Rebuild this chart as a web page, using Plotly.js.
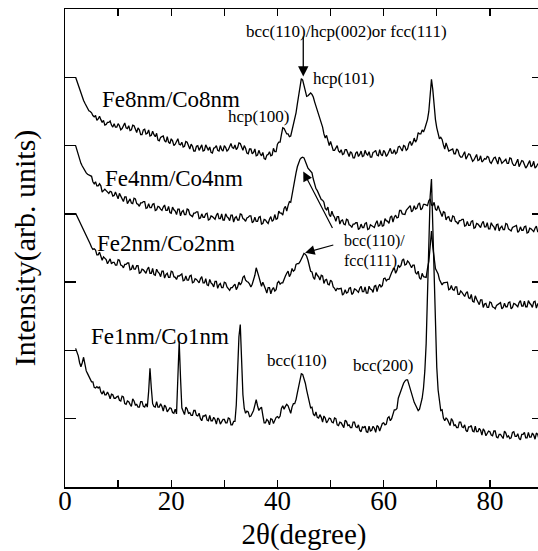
<!DOCTYPE html>
<html>
<head>
<meta charset="utf-8">
<script src="https://cdn.plot.ly/plotly-3.0.1.min.js"></script>
<style>
html,body{margin:0;padding:0;overflow:hidden;background:#fff;}
#chart{width:545px;height:551px;}
</style>
</head>
<body>
<div id="chart"></div>
<script>
// 2-theta sampling: first angle and step (degrees) of the merged series
const twoThetaStart = 2;
const twoThetaStep = 0.25;

// Intensities (arb. units, stacked offsets).
// "...Half" arrays: values at 2.0, 2.5, 3.0 ... 90.0 deg
// "...Quarter" arrays: values at 2.25, 2.75 ... 89.75 deg
const fe8nmHalf = [
6.00,5.88,5.76,5.66,5.58,5.51,5.48,5.42,5.37,5.43,
5.34,5.30,5.34,5.36,5.27,5.27,5.32,5.23,5.29,5.26,
5.29,5.23,5.29,5.19,5.23,5.16,5.24,5.18,5.14,5.21,
5.13,5.08,5.12,5.14,5.05,5.05,5.10,5.00,5.06,5.02,
5.05,4.99,5.05,4.95,4.99,4.92,5.00,4.96,4.92,5.01,
4.93,4.90,4.96,5.00,4.92,4.94,5.00,4.92,4.99,4.97,
5.01,4.97,5.03,4.93,4.96,4.88,4.95,4.90,4.85,4.93,
4.85,4.81,4.86,4.91,4.86,4.91,5.02,5.05,5.26,5.21,
5.17,5.14,5.32,5.48,5.74,5.98,5.88,5.72,5.76,5.75,
5.64,5.52,5.37,5.27,5.11,5.05,5.06,4.93,4.97,4.92,
4.94,4.88,4.94,4.84,4.89,4.82,4.91,4.87,4.84,4.93,
4.86,4.83,4.90,4.93,4.85,4.87,4.93,4.84,4.92,4.89,
4.94,4.90,4.99,4.92,4.99,4.95,5.06,5.04,5.05,5.19,
5.17,5.20,5.31,5.50,5.97,5.55,5.26,5.10,5.09,4.95,
4.99,4.93,4.95,4.88,4.93,4.83,4.87,4.80,4.88,4.83,
4.79,4.87,4.79,4.76,4.81,4.84,4.76,4.77,4.83,4.73,
4.80,4.76,4.80,4.74,4.81,4.71,4.76,4.69,4.78,4.73,
4.70,4.78,4.71,4.67,4.73,4.75,4.67];
const fe8nmQuarter = [
5.94,5.82,5.71,5.62,5.54,5.50,5.44,5.44,5.39,5.38,
5.37,5.31,5.34,5.30,5.32,5.27,5.29,5.25,5.33,5.25,
5.22,5.30,5.23,5.26,5.16,5.23,5.17,5.23,5.15,5.16,
5.18,5.07,5.13,5.07,5.13,5.03,5.07,5.02,5.10,5.01,
4.98,5.06,4.99,5.02,4.92,4.99,4.93,5.01,4.93,4.96,
4.98,4.89,4.97,4.93,5.00,4.92,4.97,4.94,5.03,4.96,
4.94,5.04,4.97,5.00,4.89,4.95,4.88,4.95,4.86,4.88,
4.90,4.80,4.87,4.85,4.96,4.91,5.05,5.16,5.25,5.17,
5.13,5.22,5.40,5.61,5.88,5.96,5.79,5.73,5.77,5.71,
5.58,5.44,5.32,5.17,5.15,5.00,5.01,4.93,5.00,4.90,
4.87,4.94,4.87,4.91,4.82,4.89,4.84,4.92,4.85,4.88,
4.91,4.83,4.91,4.86,4.94,4.85,4.90,4.87,4.96,4.89,
4.88,4.98,4.94,5.00,4.93,5.03,5.00,5.11,5.09,5.17,
5.23,5.25,5.38,5.75,5.82,5.38,5.17,5.12,5.01,5.04,
4.92,4.94,4.88,4.95,4.86,4.83,4.91,4.83,4.87,4.77,
4.84,4.78,4.85,4.78,4.80,4.83,4.74,4.82,4.77,4.83,
4.74,4.78,4.74,4.82,4.74,4.71,4.80,4.73,4.77,4.67,
4.75,4.69,4.77,4.69,4.72,4.74];

const fe4nmHalf = [
5.00,4.86,4.74,4.66,4.60,4.57,4.55,4.44,4.41,4.44,
4.32,4.36,4.31,4.33,4.26,4.32,4.22,4.25,4.18,4.25,
4.20,4.16,4.23,4.15,4.11,4.16,4.18,4.09,4.09,4.14,
4.05,4.11,4.07,4.10,4.05,4.11,4.01,4.06,3.99,4.07,
4.03,3.99,4.07,3.99,3.96,4.01,4.03,3.94,3.95,4.00,
3.91,3.97,3.94,3.98,3.93,4.00,3.91,3.96,3.90,3.98,
3.94,3.91,4.00,3.93,3.89,3.95,3.97,3.89,3.89,3.95,
3.85,3.92,3.88,3.92,3.89,3.99,3.93,4.01,3.98,4.11,
4.12,4.17,4.41,4.60,4.76,4.82,4.82,4.72,4.64,4.60,
4.42,4.34,4.25,4.20,4.08,4.10,3.96,3.98,3.89,3.96,
3.90,3.85,3.92,3.84,3.80,3.85,3.87,3.79,3.80,3.86,
3.77,3.84,3.81,3.86,3.82,3.90,3.83,3.90,3.86,3.97,
3.95,3.94,4.05,4.00,3.99,4.07,4.12,4.05,4.07,4.14,
4.06,4.14,4.13,4.19,4.13,4.17,4.05,4.06,3.96,4.02,
3.95,3.90,3.97,3.89,3.85,3.90,3.92,3.83,3.83,3.89,
3.79,3.86,3.82,3.86,3.81,3.87,3.78,3.83,3.76,3.85,
3.80,3.77,3.86,3.78,3.75,3.81,3.83,3.75,3.76,3.81,
3.72,3.79,3.76,3.79,3.74,3.81,3.72];
const fe4nmQuarter = [
4.93,4.80,4.70,4.63,4.58,4.56,4.47,4.47,4.41,4.41,
4.34,4.34,4.30,4.32,4.27,4.25,4.30,4.23,4.25,4.15,
4.22,4.15,4.22,4.14,4.16,4.18,4.08,4.15,4.09,4.15,
4.06,4.10,4.05,4.13,4.05,4.02,4.10,4.04,4.07,3.97,
4.05,3.99,4.06,3.98,4.01,4.03,3.93,4.00,3.95,4.01,
3.92,3.96,3.92,4.01,3.93,3.91,4.00,3.94,3.98,3.88,
3.96,3.91,3.99,3.92,3.94,3.97,3.87,3.95,3.89,3.96,
3.86,3.91,3.86,3.96,3.91,3.92,4.04,4.01,4.08,4.04,
4.18,4.29,4.50,4.69,4.80,4.83,4.78,4.67,4.62,4.51,
4.37,4.29,4.21,4.17,4.06,3.99,4.04,3.95,3.96,3.85,
3.91,3.84,3.91,3.83,3.85,3.87,3.77,3.85,3.80,3.87,
3.78,3.83,3.80,3.90,3.83,3.82,3.93,3.89,3.95,3.88,
3.98,3.95,4.05,4.00,4.05,4.10,4.03,4.12,4.08,4.16,
4.08,4.14,4.12,4.22,4.12,4.07,4.12,4.02,4.03,3.91,
3.96,3.89,3.96,3.88,3.90,3.92,3.82,3.89,3.83,3.90,
3.80,3.85,3.80,3.89,3.81,3.78,3.87,3.81,3.84,3.75,
3.82,3.77,3.85,3.77,3.80,3.83,3.73,3.81,3.76,3.82,
3.73,3.78,3.74,3.82,3.74,3.72];

const fe2nmHalf = [
4.01,3.92,3.84,3.76,3.69,3.62,3.51,3.49,3.40,3.44,
3.32,3.35,3.27,3.34,3.29,3.25,3.33,3.25,3.21,3.26,
3.28,3.19,3.19,3.24,3.13,3.19,3.15,3.19,3.13,3.20,
3.10,3.15,3.08,3.16,3.11,3.07,3.16,3.08,3.04,3.09,
3.12,3.03,3.03,3.09,2.99,3.05,3.01,3.05,2.99,3.05,
2.95,2.99,2.93,3.01,2.96,2.92,3.00,2.93,2.88,2.92,
2.97,2.93,2.96,3.07,3.03,3.00,2.93,3.02,3.21,3.08,
2.94,2.93,2.84,2.92,2.89,2.87,2.99,2.97,2.99,3.09,
3.16,3.12,3.16,3.26,3.27,3.34,3.42,3.38,3.24,3.15,
3.04,3.10,3.03,3.09,3.03,2.97,3.03,2.93,2.87,2.90,
2.91,2.83,2.84,2.91,2.82,2.90,2.87,2.91,2.86,2.93,
2.84,2.90,2.85,2.95,2.93,2.93,3.05,3.02,3.04,3.14,
3.21,3.17,3.22,3.32,3.25,3.31,3.25,3.25,3.14,3.16,
3.04,3.08,3.07,3.30,3.75,3.30,3.16,3.04,2.96,2.99,
3.00,2.90,2.89,2.93,2.82,2.87,2.82,2.84,2.77,2.82,
2.71,2.75,2.67,2.74,2.68,2.63,2.71,2.64,2.61,2.67,
2.70,2.63,2.64,2.70,2.61,2.69,2.66,2.70,2.65,2.72,
2.64,2.69,2.63,2.72,2.68,2.65,2.74];
const fe2nmQuarter = [
3.97,3.88,3.80,3.73,3.65,3.56,3.48,3.47,3.40,3.36,
3.37,3.33,3.32,3.27,3.29,3.25,3.32,3.24,3.26,3.28,
3.18,3.25,3.19,3.24,3.14,3.18,3.13,3.22,3.13,3.11,
3.19,3.13,3.16,3.06,3.13,3.07,3.15,3.07,3.09,3.11,
3.02,3.09,3.03,3.10,3.00,3.04,2.99,3.08,2.99,2.96,
3.04,2.97,3.01,2.91,2.98,2.92,2.99,2.91,2.92,2.95,
2.89,3.00,2.99,3.09,3.01,2.97,2.97,3.10,3.16,3.01,
3.00,2.90,2.92,2.83,2.92,2.89,3.01,2.99,3.06,3.13,
3.08,3.20,3.18,3.27,3.30,3.39,3.41,3.32,3.16,3.07,
3.14,3.08,3.10,2.98,3.04,2.96,3.01,2.91,2.91,2.91,
2.81,2.89,2.85,2.92,2.84,2.89,2.85,2.94,2.86,2.84,
2.94,2.89,2.94,2.86,2.97,2.95,3.06,3.04,3.11,3.18,
3.13,3.25,3.24,3.34,3.26,3.29,3.21,3.25,3.12,3.06,
3.13,3.08,3.20,3.52,3.52,3.20,3.12,3.00,2.99,3.00,
2.89,2.95,2.88,2.93,2.82,2.85,2.79,2.86,2.76,2.72,
2.80,2.72,2.74,2.63,2.69,2.63,2.70,2.63,2.66,2.69,
2.61,2.69,2.64,2.71,2.63,2.68,2.64,2.73,2.65,2.64,
2.73,2.67,2.71,2.62,2.70,2.65];

const fe1nmHalf = [
2.03,1.92,1.76,1.90,1.70,1.62,1.54,1.46,1.47,1.47,
1.36,1.35,1.39,1.29,1.35,1.30,1.33,1.26,1.32,1.21,
1.25,1.18,1.26,1.21,1.17,1.25,1.17,1.17,1.74,1.22,
1.17,1.17,1.22,1.11,1.17,1.13,1.15,1.08,1.07,2.13,
1.16,1.06,1.14,1.09,1.05,1.12,1.04,1.00,1.04,1.06,
0.97,0.97,1.02,0.92,0.99,0.95,0.99,0.94,1.00,0.91,
0.96,1.70,2.38,1.35,1.08,1.10,1.04,1.12,1.28,1.12,
1.17,0.94,0.99,0.91,0.99,0.97,1.03,1.04,1.19,1.18,
1.19,1.08,1.22,1.28,1.48,1.66,1.60,1.42,1.22,1.17,
1.04,1.02,1.06,0.95,1.01,0.97,1.00,0.94,1.00,0.90,
0.94,0.87,0.96,0.91,0.87,0.95,0.87,0.83,0.88,0.89,
0.80,0.82,0.89,0.80,0.88,0.87,0.94,0.92,1.03,1.00,
1.13,1.15,1.36,1.46,1.55,1.57,1.42,1.30,1.20,1.12,
1.22,1.45,2.10,3.70,4.51,3.10,1.75,1.22,1.13,0.97,
0.99,0.90,0.97,0.91,0.87,0.95,0.87,0.83,0.88,0.90,
0.81,0.81,0.86,0.76,0.82,0.78,0.81,0.75,0.82,0.72,
0.77,0.71,0.79,0.75,0.72,0.81,0.74,0.71,0.77,0.80,
0.72,0.73,0.79,0.70,0.77,0.74,0.79];
const fe1nmQuarter = [
1.98,1.82,1.82,1.80,1.66,1.58,1.54,1.45,1.45,1.39,
1.41,1.35,1.35,1.36,1.30,1.32,1.27,1.33,1.22,1.26,
1.21,1.29,1.20,1.17,1.25,1.18,1.22,1.40,1.45,1.18,
1.25,1.17,1.18,1.20,1.10,1.16,1.09,1.14,1.55,1.60,
1.11,1.17,1.08,1.05,1.12,1.05,1.08,0.97,1.04,0.98,
1.05,0.97,0.99,1.01,0.92,0.99,0.94,1.01,0.91,0.96,
1.20,2.20,1.85,1.15,1.11,1.03,1.08,1.20,1.19,1.15,
1.05,0.94,0.97,1.00,0.93,1.02,1.01,1.15,1.14,1.21,
1.14,1.17,1.22,1.38,1.58,1.65,1.52,1.32,1.16,1.07,
1.10,1.01,1.02,1.04,0.94,1.01,0.95,1.01,0.91,0.95,
0.90,0.98,0.90,0.87,0.95,0.88,0.91,0.81,0.87,0.81,
0.89,0.83,0.86,0.90,0.82,0.93,0.91,1.01,0.97,1.09,
1.13,1.30,1.40,1.52,1.57,1.50,1.36,1.24,1.17,1.14,
1.30,1.70,2.85,4.25,3.85,2.30,1.42,1.12,1.01,1.01,
0.94,1.00,0.90,0.87,0.95,0.88,0.91,0.81,0.88,0.82,
0.89,0.81,0.83,0.85,0.75,0.82,0.76,0.82,0.73,0.77,
0.73,0.82,0.73,0.71,0.80,0.74,0.78,0.69,0.77,0.72,
0.80,0.73,0.76,0.79,0.70,0.79];

const seriesNames = ['Fe8nm/Co8nm','Fe4nm/Co4nm','Fe2nm/Co2nm','Fe1nm/Co1nm'];
const seriesHalf = [fe8nmHalf, fe4nmHalf, fe2nmHalf, fe1nmHalf];
const seriesQuarter = [fe8nmQuarter, fe4nmQuarter, fe2nmQuarter, fe1nmQuarter];

// label anchor points (data coords)
const labelX = [6.5, 7.1, 5.65, 4.6];
const labelY = [5.68, 4.52, 3.57, 2.21];

// axis ticks
const xTickVals = [0,10,20,30,40,50,60,70,80,90];
const xTickText = ['0','','20','','40','','60','','80',''];
const yTickVals = [1,2,3,4,5,6];

const serif = '"Liberation Serif", "Times New Roman", serif';

// merge the two sample sets into angle order
function mergeSamples(half, quarter) {
  const out = [];
  for (let i = 0; i < half.length; i++) {
    out.push(half[i]);
    if (i < quarter.length) out.push(quarter[i]);
  }
  return out;
}

const traces = seriesNames.map((n, i) => ({
  type: 'scatter', mode: 'lines', name: n,
  x0: twoThetaStart, dx: twoThetaStep, y: mergeSamples(seriesHalf[i], seriesQuarter[i]),
  line: {color: '#000', width: 1.3}, hoverinfo: 'skip'
}));

const annotations = [];
seriesNames.forEach((n, i) => annotations.push({
  x: labelX[i], y: labelY[i], xref: 'x', yref: 'y', text: n, showarrow: false,
  xanchor: 'left', yanchor: 'middle', font: {family: serif, size: 23, color: '#000'}
}));

const small = {family: serif, size: 17, color: '#000'};
const small2 = {family: serif, size: 16, color: '#000'};
annotations.push(
  {x: 53.0, y: 6.67, text: 'bcc(110)/hcp(002)or fcc(111)', showarrow: false, font: small, xanchor: 'center', yanchor: 'middle'},
  {x: 44.86, y: 6.01, ax: 44.86, ay: 6.62, axref: 'x', ayref: 'y', text: '', showarrow: true, arrowhead: 2, arrowsize: 1.6, arrowwidth: 1.3, arrowcolor: '#000'},
  {x: 52.5, y: 5.98, text: 'hcp(101)', showarrow: false, font: small, xanchor: 'center', yanchor: 'middle'},
  {x: 36.5, y: 5.43, text: 'hcp(100)', showarrow: false, font: small, xanchor: 'center', yanchor: 'middle'},
  {x: 52.1, y: 3.60, text: 'bcc(110)/', showarrow: false, font: small2, xanchor: 'left', yanchor: 'middle'},
  {x: 52.1, y: 3.31, text: 'fcc(111)', showarrow: false, font: small2, xanchor: 'left', yanchor: 'middle'},
  {x: 45.2, y: 3.43, ax: 50.8, ay: 3.55, axref: 'x', ayref: 'y', text: '', showarrow: true, arrowhead: 2, arrowsize: 1.6, arrowwidth: 1.2, arrowcolor: '#000'},
  {x: 44.86, y: 4.62, ax: 50.5, ay: 3.77, axref: 'x', ayref: 'y', text: '', showarrow: true, arrowhead: 2, arrowsize: 1.6, arrowwidth: 1.2, arrowcolor: '#000'},
  {x: 43.6, y: 1.85, text: 'bcc(110)', showarrow: false, font: small, xanchor: 'center', yanchor: 'middle'},
  {x: 59.8, y: 1.78, text: 'bcc(200)', showarrow: false, font: small, xanchor: 'center', yanchor: 'middle'}
);
annotations.forEach(a => { if (!a.xref) { a.xref = 'x'; a.yref = 'y'; } });

const layout = {
  width: 545, height: 551,
  margin: {l: 65, r: 2, t: 9, b: 64},
  paper_bgcolor: '#fff', plot_bgcolor: '#fff',
  showlegend: false,
  font: {family: serif, color: '#000'},
  xaxis: {
    range: [0, 90], tickvals: xTickVals, ticktext: xTickText,
    ticks: 'inside', ticklen: 7, tickwidth: 1.3, tickcolor: '#000',
    showline: true, linewidth: 1.5, linecolor: '#000', mirror: 'ticks',
    showgrid: false, zeroline: false, ticklabelstandoff: -11,
    tickfont: {family: serif, size: 27, color: '#000'},
    title: {text: '2θ(degree)', font: {family: serif, size: 29, color: '#000'}, standoff: 11}
  },
  yaxis: {
    range: [0, 7], tickvals: yTickVals, showticklabels: false,
    ticks: 'inside', ticklen: 11, tickwidth: 1.3, tickcolor: '#000',
    showline: true, linewidth: 1.5, linecolor: '#000', mirror: 'ticks',
    showgrid: false, zeroline: false,
    title: {text: 'Intensity(arb. units)', font: {family: serif, size: 30, color: '#000'}, standoff: 19}
  },
  annotations: annotations
};

Plotly.newPlot('chart', traces, layout, {displayModeBar: false, staticPlot: true});
</script>
</body>
</html>
